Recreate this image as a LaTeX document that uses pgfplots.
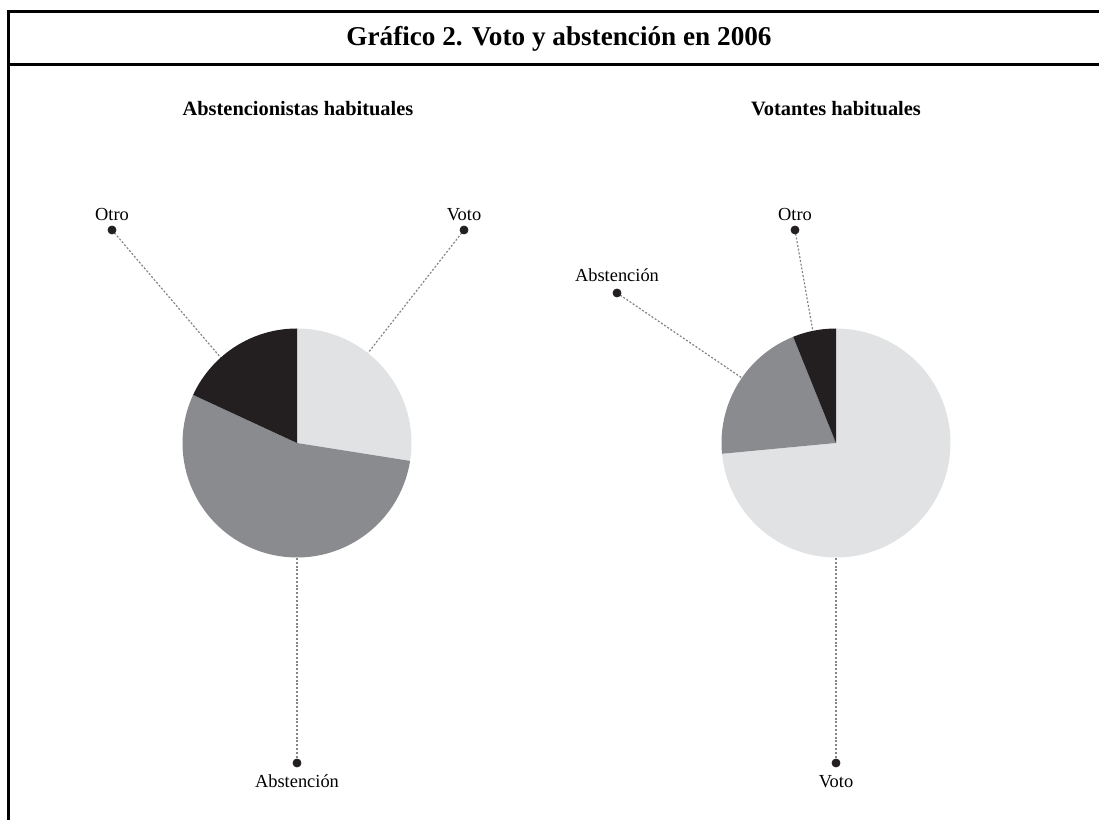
\documentclass[border=0pt]{standalone}
\usepackage{pgfplots}
\pgfplotsset{compat=1.18}
\usepackage{fontspec}
\setmainfont{Liberation Serif}
\definecolor{cLight}{HTML}{E1E2E3}
\definecolor{cMid}{HTML}{8A8B8E}
\definecolor{cDark}{HTML}{231F20}
\definecolor{cLead}{HTML}{858585}
\tikzset{
  lab/.style={font=\fontsize{9.2}{11}\selectfont, anchor=base, inner sep=0pt},
  lead/.style={cLead, line width=0.6pt, dash pattern=on 1pt off 0.9pt},
}
% data (percent)
\def\LVoto{27.5}\def\LAbst{54.4}\def\LOtro{18.1}
\def\RVoto{73.5}\def\RAbst{20.4}\def\ROtro{6.1}
\pgfmathsetmacro{\La}{90}
\pgfmathsetmacro{\Lb}{90-3.6*\LVoto}
\pgfmathsetmacro{\Lc}{\Lb-3.6*\LAbst}
\pgfmathsetmacro{\Ld}{\Lc-3.6*\LOtro}
\pgfmathsetmacro{\Ra}{90}
\pgfmathsetmacro{\Rb}{90-3.6*\RVoto}
\pgfmathsetmacro{\Rc}{\Rb-3.6*\RAbst}
\pgfmathsetmacro{\Rd}{\Rc-3.6*\ROtro}
\begin{document}
\begin{tikzpicture}
\begin{axis}[
  width=549.5pt, height=410pt, scale only axis,
  xmin=0, xmax=1099, ymin=0, ymax=820,
  hide axis, clip=false,
]
% frame
\addplot[black, line width=1.5pt, line cap=butt] coordinates {(8.5,0) (8.5,808) (1099,808)};
\addplot[black, line width=1.5pt, line cap=butt] coordinates {(8.5,755) (1099,755)};
% leader lines
\addplot[lead] coordinates {(112,590) (221,462)};
\addplot[lead] coordinates {(464,590) (368,467)};
\addplot[lead] coordinates {(297,262) (297,57)};
\addplot[lead] coordinates {(795,590) (813,488)};
\addplot[lead] coordinates {(617,527) (742,442)};
\addplot[lead] coordinates {(836,262) (836,57)};
% left pie
\addplot[fill=cLight, draw=none, domain=\La:\Lb, samples=60, variable=\t] ({297+114.5*cos(\t)},{377+114.5*sin(\t)}) -- (axis cs:297,377) -- cycle;
\addplot[fill=cMid, draw=none, domain=\Lb:\Lc, samples=90, variable=\t] ({297+114.5*cos(\t)},{377+114.5*sin(\t)}) -- (axis cs:297,377) -- cycle;
\addplot[fill=cDark, draw=none, domain=\Lc:\Ld, samples=40, variable=\t] ({297+114.5*cos(\t)},{377+114.5*sin(\t)}) -- (axis cs:297,377) -- cycle;
% right pie
\addplot[fill=cLight, draw=none, domain=\Ra:\Rb, samples=120, variable=\t] ({836+114.5*cos(\t)},{377+114.5*sin(\t)}) -- (axis cs:836,377) -- cycle;
\addplot[fill=cMid, draw=none, domain=\Rb:\Rc, samples=40, variable=\t] ({836+114.5*cos(\t)},{377+114.5*sin(\t)}) -- (axis cs:836,377) -- cycle;
\addplot[fill=cDark, draw=none, domain=\Rc:\Rd, samples=20, variable=\t] ({836+114.5*cos(\t)},{377+114.5*sin(\t)}) -- (axis cs:836,377) -- cycle;
% dots
\addplot[only marks, mark=*, mark size=2pt, cDark] coordinates {(112,590) (464,590) (297,57) (795,590) (617,527) (836,57)};
% texts
\node[font=\bfseries\fontsize{13.6}{15}\selectfont] at (axis cs:559,781) {Gráfico 2. Voto y abstención en 2006};
\node[font=\bfseries\fontsize{10.2}{12}\selectfont] at (axis cs:298,711) {Abstencionistas habituales};
\node[font=\bfseries\fontsize{10.2}{12}\selectfont] at (axis cs:836,711) {Votantes habituales};
\node[lab] at (axis cs:112,599) {Otro};
\node[lab] at (axis cs:464,599) {Voto};
\node[lab] at (axis cs:297,32) {Abstención};
\node[lab] at (axis cs:795,599) {Otro};
\node[lab] at (axis cs:617,538) {Abstención};
\node[lab] at (axis cs:836,32) {Voto};
\end{axis}
\pgfresetboundingbox
\path (current axis.south west) rectangle (current axis.north east);
\end{tikzpicture}
\end{document}
